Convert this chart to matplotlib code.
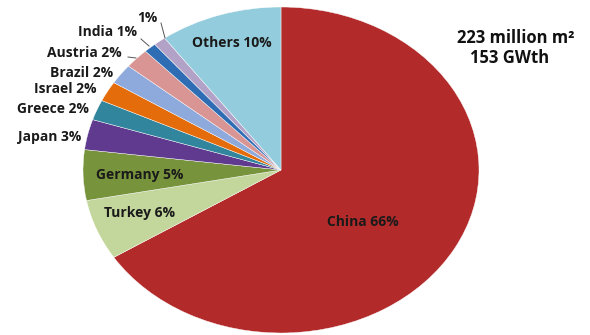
import numpy as np
import matplotlib.pyplot as plt

# Solar thermal capacity share by country
countries = ["China", "Turkey", "Germany", "Japan", "Greece", "Israel",
             "Brazil", "Austria", "India", "", "Others"]
shares = [66, 6, 5, 3, 2, 2, 2, 2, 1, 1, 10]
colors = ["#B22A2A", "#C3D69B", "#77933C", "#5F3A8E", "#31859C", "#E46C0A",
          "#8EA9DB", "#D99594", "#2E6DB4", "#B3A2C7", "#93CDDD"]

# label positions in pixels of the 590x335 picture (centre of text)
label_px = [(363, 222), (140, 213), (140, 175), (50, 137), (53, 109), (65, 89),
            (82, 73), (84, 53), (108, 32), (147, 18), (232, 43)]

W, H = 590, 335
CX, CY, RX, RY = 281, 170, 198, 163

fig = plt.figure(figsize=(W / 100, H / 100), dpi=100)
ax = fig.add_axes([(CX - RX) / W, (H - CY - RY) / H, 2 * RX / W, 2 * RY / H])

ax.pie(shares, colors=colors, startangle=90, counterclock=False,
       wedgeprops=dict(edgecolor="white", linewidth=0.3))
ax.set_aspect("auto")
ax.set_xlim(-1, 1)
ax.set_ylim(-1, 1)
ax.axis("off")


def to_data(px, py):
    return (px - CX) / RX, (CY - py) / RY


for name, val, (px, py) in zip(countries, shares, label_px):
    txt = f"{name} {val}%".strip()
    x, y = to_data(px, py)
    ax.text(x, y, txt, ha="center", va="center", fontsize=10,
            family="Open Sans", fontweight="bold", color="#1a1a1a",
            clip_on=False)

# leader lines for the small slices
for (x0, y0), (x1, y1) in [((128, 57), (136, 58)), ((141, 39), (149, 46)),
                           ((161, 23), (165, 38))]:
    a, b = to_data(x0, y0)
    c, d = to_data(x1, y1)
    ax.plot([a, c], [b, d], color="#555555", lw=0.7, clip_on=False)

fig.text(516 / W, 1 - 38 / H, "223 million m²", ha="center", va="center",
         fontsize=12, family="Open Sans", fontweight="bold", color="#111111")
fig.text(510 / W, 1 - 58 / H, "153 GWth", ha="center", va="center",
         fontsize=12, family="Open Sans", fontweight="bold", color="#111111")

fig.savefig("out.png", dpi=100)
